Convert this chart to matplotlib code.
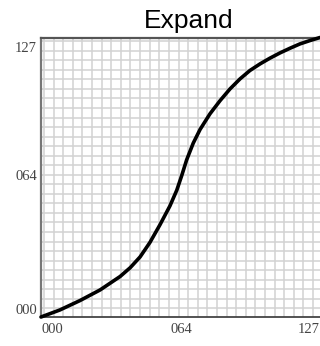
import numpy as np
import matplotlib
matplotlib.use("Agg")
import matplotlib.pyplot as plt
import matplotlib.transforms as mtransforms

# Transfer curve: input level vs. expanded output level
x_in = [0, 8.6, 17.8, 26.9, 36.0, 40.6, 45.1, 49.6, 54.2, 58.7, 61.8, 64.1,
        66.3, 69.3, 72.4, 76.9, 81.5, 86.0, 90.6, 95.1, 99.7, 104.2, 108.8,
        113.3, 117.9, 122.4, 127]
y_out = [0, 3.2, 7.5, 12.3, 18.4, 22.4, 27.3, 33.9, 42.0, 50.5, 57.6, 64.4,
         71.4, 79.0, 85.2, 92.3, 98.3, 103.6, 108.2, 112.0, 115.0, 117.6,
         120.0, 122.1, 124.1, 125.6, 127]
tick_vals = [0, 64, 127]
tick_text = ["000", "064", "127"]
title = "Expand"

W, H = 320, 346
fig = plt.figure(figsize=(W / 100, H / 100), dpi=100)
ax = fig.add_axes([41 / W, 29 / H, (320 - 41) / W, (317 - 37.5) / H])
ax.set_xlim(0, 127)
ax.set_ylim(0, 127)

# fine background grid
for gx in 1.37 + 4.373 * np.arange(29):
    ax.axvline(gx, color="#d2d2d2", lw=1.1, zorder=1)
for gy in 3.96 + 4.334 * np.arange(29):
    ax.axhline(gy, color="#d2d2d2", lw=1.1, zorder=1)

ax.plot(x_in, y_out, color="black", lw=2.6, zorder=3, solid_capstyle="round",
        solid_joinstyle="round", clip_on=False)

ax.spines["right"].set_visible(False)
ax.spines["left"].set_color("#777777")
ax.spines["left"].set_linewidth(1.6)
ax.spines["top"].set_color("#555555")
ax.spines["top"].set_linewidth(1.6)
ax.spines["bottom"].set_color("#444444")
ax.spines["bottom"].set_linewidth(1.3)

serif = dict(family="Liberation Serif", size=10.5, color="#444444")
ax.set_xticks(tick_vals)
ax.set_xticklabels(tick_text, **serif)
ax.set_yticks(tick_vals)
ax.set_yticklabels(tick_text, **serif)
ax.tick_params(length=0, pad=4)
ax.tick_params(axis="y", pad=3)
for lab, ha in zip(ax.get_xticklabels(), ["left", "center", "right"]):
    lab.set_ha(ha)
for lab, va in zip(ax.get_yticklabels(), ["bottom", "center", "top"]):
    lab.set_va(va)
top_lab = ax.get_yticklabels()[-1]
top_lab.set_transform(top_lab.get_transform() +
                      mtransforms.ScaledTranslation(0, -4 / 100, fig.dpi_scale_trans))

fig.text(189 / W, 1 - 28.3 / H, title, family="Liberation Sans", size=19,
         ha="center", va="baseline", color="black")

fig.savefig("out.png", dpi=100)
